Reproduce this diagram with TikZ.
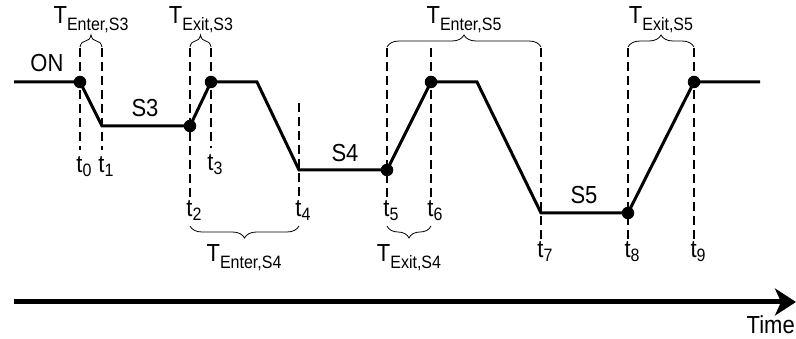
\documentclass[tikz,border=0pt]{standalone}
\usepackage{fontspec}
\setmainfont{Liberation Sans}
\usetikzlibrary{arrows.meta,decorations.pathreplacing}
\newcommand\Tlab[1]{\scalebox{1}[1.12]{T\raisebox{-5.5pt}{\fontsize{16pt}{16pt}\selectfont #1}}}
\newcommand\tlab[1]{\scalebox{1}[1.12]{t\raisebox{-3pt}{\fontsize{16pt}{16pt}\selectfont #1}}}
\begin{document}
\begin{tikzpicture}[x=1pt,y=-1pt,
  wave/.style={line width=3pt, line join=miter},
  guide/.style={line width=1.4pt, dash pattern=on 9pt off 5pt},
  dot/.style={circle, fill, inner sep=0pt, minimum size=12.5pt},
  brc/.style={decorate, decoration={brace, amplitude=12pt}, line width=0.8pt},
  lbl/.style={font=\fontsize{22pt}{22pt}\selectfont, inner sep=0pt},
]
\useasboundingbox (0,0) rectangle (796,339);
% waveform vertices
\coordinate (w0) at (14,82);
\coordinate (p0) at (80,82);
\coordinate (p1) at (102,126);
\coordinate (p2) at (190,126);
\coordinate (p3) at (211,82);
\coordinate (c3) at (257,82);
\coordinate (p4) at (299,170);
\coordinate (p5) at (387,170);
\coordinate (p6) at (431,82);
\coordinate (c6) at (477,82);
\coordinate (p7) at (541,213);
\coordinate (p8) at (628,213);
\coordinate (p9) at (694,82);
\coordinate (w1) at (760,82);
% guide line ends
\coordinate (g0a) at (80,48);  \coordinate (g0b) at (80,150);
\coordinate (g1a) at (102,48); \coordinate (g1b) at (102,150);
\coordinate (g2a) at (190,48); \coordinate (g2b) at (190,198);
\coordinate (g3a) at (211,48); \coordinate (g3b) at (211,148);
\coordinate (g4a) at (299,103); \coordinate (g4b) at (299,198);
\coordinate (g5a) at (387,48); \coordinate (g5b) at (387,198);
\coordinate (g6a) at (431,48); \coordinate (g6b) at (431,198);
\coordinate (g7a) at (541,48); \coordinate (g7b) at (541,240);
\coordinate (g8a) at (628,48); \coordinate (g8b) at (628,240);
\coordinate (g9a) at (694,48); \coordinate (g9b) at (694,240);
\foreach \i in {0,...,9} \draw[guide] (g\i a) -- (g\i b);
% waveform
\draw[wave] (w0) -- (p0) -- (p1) -- (p2) -- (p3) -- (c3) -- (p4) -- (p5) -- (p6) -- (c6) -- (p7) -- (p8) -- (p9) -- (w1);
\foreach \i in {0,2,3,5,6,8,9} \node[dot] (d\i) at (p\i) {};
% state labels
\node[lbl] (on) at (47,63) {\scalebox{1}[1.12]{ON}};
\node[lbl] (s3) at (145,108) {\scalebox{1}[1.12]{S3}};
\node[lbl] (s4) at (345,153) {\scalebox{1}[1.12]{S4}};
\node[lbl] (s5) at (584,195) {\scalebox{1}[1.12]{S5}};
% time labels
\node[lbl, anchor=base] (t0) at (84,173) {\tlab{0}};
\node[lbl, anchor=base] (t1) at (106,173) {\tlab{1}};
\node[lbl, anchor=base] (t2) at (194,217) {\tlab{2}};
\node[lbl, anchor=base] (t3) at (215,171) {\tlab{3}};
\node[lbl, anchor=base] (t4) at (303,217) {\tlab{4}};
\node[lbl, anchor=base] (t5) at (391,217) {\tlab{5}};
\node[lbl, anchor=base] (t6) at (435,217) {\tlab{6}};
\node[lbl, anchor=base] (t7) at (545,258) {\tlab{7}};
\node[lbl, anchor=base] (t8) at (632,258) {\tlab{8}};
\node[lbl, anchor=base] (t9) at (698,258) {\tlab{9}};
% braces
\coordinate (b0) at (80,47);  \coordinate (b1) at (102,47);
\coordinate (b2) at (190,47); \coordinate (b3) at (211,47);
\coordinate (b5) at (387,47); \coordinate (b7) at (541,47);
\coordinate (b8) at (628,47); \coordinate (b9) at (694,47);
\coordinate (l2) at (190,226); \coordinate (l4) at (299,226);
\coordinate (l5) at (387,226); \coordinate (l6) at (431,226);
\draw[brc] (b0) -- (b1);
\draw[brc] (b2) -- (b3);
\draw[brc] (b5) -- (b7);
\draw[brc] (b8) -- (b9);
\draw[brc] (l4) -- (l2);
\draw[brc] (l6) -- (l5);
\node[lbl, anchor=base] (TenS3) at (91,24) {\Tlab{Enter,S3}};
\node[lbl, anchor=base] (TexS3) at (201,24) {\Tlab{Exit,S3}};
\node[lbl, anchor=base] (TenS5) at (464,24) {\Tlab{Enter,S5}};
\node[lbl, anchor=base] (TexS5) at (661,24) {\Tlab{Exit,S5}};
\node[lbl, anchor=base] (TenS4) at (244,262) {\Tlab{Enter,S4}};
\node[lbl, anchor=base] (TexS4) at (409,262) {\Tlab{Exit,S4}};
% time axis
\coordinate (ax0) at (14,302);
\coordinate (ax1) at (796,302);
\draw[line width=5pt, -{Stealth[length=21pt,width=27pt,inset=6pt]}] (ax0) -- (ax1);
\node[lbl, anchor=base east] (time) at (795,334) {\scalebox{1}[1.12]{Time}};
\end{tikzpicture}
\end{document}
